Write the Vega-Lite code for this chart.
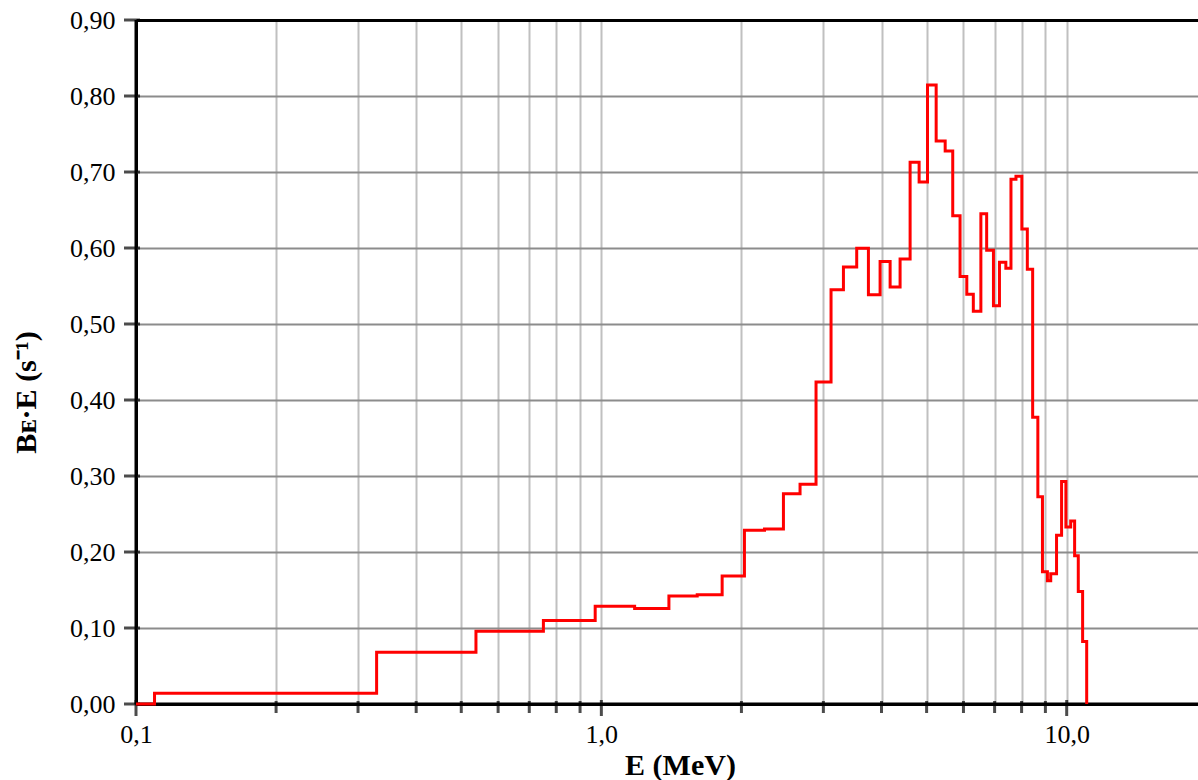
{
  "$schema": "https://vega.github.io/schema/vega-lite/v6.json",
  "autosize": "none",
  "width": 1062,
  "height": 684,
  "padding": {"left": 136, "top": 20, "right": 0, "bottom": 76},
  "background": "white",
  "config": {
    "view": {"stroke": null},
    "font": "Liberation Serif",
    "axis": {"domain": false, "ticks": false, "tickSize": 0}
  },
  "datasets": {
    "spectrum": [
      {"E": 0.1, "v": 0.0},
      {"E": 0.1096, "v": 0.0141},
      {"E": 0.3289, "v": 0.068},
      {"E": 0.5377, "v": 0.0956},
      {"E": 0.7507, "v": 0.110},
      {"E": 0.970, "v": 0.1286},
      {"E": 1.179, "v": 0.1255},
      {"E": 1.397, "v": 0.1421},
      {"E": 1.607, "v": 0.1439},
      {"E": 1.818, "v": 0.1684},
      {"E": 2.03, "v": 0.2285},
      {"E": 2.242, "v": 0.2303},
      {"E": 2.462, "v": 0.2768},
      {"E": 2.673, "v": 0.289},
      {"E": 2.893, "v": 0.4238},
      {"E": 3.116, "v": 0.545},
      {"E": 3.313, "v": 0.5749},
      {"E": 3.538, "v": 0.5998},
      {"E": 3.749, "v": 0.5385},
      {"E": 3.972, "v": 0.5823},
      {"E": 4.174, "v": 0.5486},
      {"E": 4.385, "v": 0.5854},
      {"E": 4.608, "v": 0.7128},
      {"E": 4.818, "v": 0.687},
      {"E": 5.022, "v": 0.8145},
      {"E": 5.242, "v": 0.7409},
      {"E": 5.481, "v": 0.7277},
      {"E": 5.69, "v": 0.6425},
      {"E": 5.90, "v": 0.5625},
      {"E": 6.10, "v": 0.539},
      {"E": 6.30, "v": 0.5168},
      {"E": 6.54, "v": 0.645},
      {"E": 6.73, "v": 0.5969},
      {"E": 6.96, "v": 0.524},
      {"E": 7.17, "v": 0.5814},
      {"E": 7.40, "v": 0.5733},
      {"E": 7.59, "v": 0.6906},
      {"E": 7.78, "v": 0.6943},
      {"E": 8.01, "v": 0.625},
      {"E": 8.23, "v": 0.5719},
      {"E": 8.45, "v": 0.3774},
      {"E": 8.67, "v": 0.2728},
      {"E": 8.87, "v": 0.174},
      {"E": 9.09, "v": 0.1621},
      {"E": 9.24, "v": 0.1715},
      {"E": 9.51, "v": 0.222},
      {"E": 9.75, "v": 0.2927},
      {"E": 9.96, "v": 0.2329},
      {"E": 10.20, "v": 0.2409},
      {"E": 10.40, "v": 0.1952},
      {"E": 10.59, "v": 0.1481},
      {"E": 10.82, "v": 0.0821},
      {"E": 11.04, "v": 0.0}
    ],
    "frame": [{"E": 0.1, "v": 0}],
    "decadeTicks": [{"E": 0.1, "v": 0}, {"E": 1, "v": 0}, {"E": 10, "v": 0}],
    "minorTicks": [
      {"E": 0.2, "v": 0}, {"E": 0.3, "v": 0}, {"E": 0.4, "v": 0}, {"E": 0.5, "v": 0}, {"E": 0.6, "v": 0}, {"E": 0.7, "v": 0}, {"E": 0.8, "v": 0}, {"E": 0.9, "v": 0},
      {"E": 2, "v": 0}, {"E": 3, "v": 0}, {"E": 4, "v": 0}, {"E": 5, "v": 0}, {"E": 6, "v": 0}, {"E": 7, "v": 0}, {"E": 8, "v": 0}, {"E": 9, "v": 0}
    ],
    "valueTicks": [
      {"E": 0.1, "v": 0}, {"E": 0.1, "v": 0.1}, {"E": 0.1, "v": 0.2}, {"E": 0.1, "v": 0.3}, {"E": 0.1, "v": 0.4},
      {"E": 0.1, "v": 0.5}, {"E": 0.1, "v": 0.6}, {"E": 0.1, "v": 0.7}, {"E": 0.1, "v": 0.8}, {"E": 0.1, "v": 0.9}
    ]
  },
  "layer": [
    {
      "data": {"name": "frame"},
      "mark": {"type": "rule", "color": "black", "strokeWidth": 3},
      "encoding": {"y": {"field": "v", "type": "quantitative"}}
    },
    {
      "data": {"name": "frame"},
      "mark": {"type": "rule", "color": "black", "strokeWidth": 3},
      "encoding": {"x": {"field": "E", "type": "quantitative"}}
    },
    {
      "data": {"name": "decadeTicks"},
      "mark": {"type": "tick", "color": "black", "thickness": 3, "size": 16, "orient": "vertical", "yOffset": 4},
      "encoding": {
        "x": {"field": "E", "type": "quantitative"},
        "y": {"field": "v", "type": "quantitative"}
      }
    },
    {
      "data": {"name": "minorTicks"},
      "mark": {"type": "tick", "color": "black", "thickness": 3, "size": 12, "orient": "vertical", "yOffset": 3},
      "encoding": {
        "x": {"field": "E", "type": "quantitative"},
        "y": {"field": "v", "type": "quantitative"}
      }
    },
    {
      "data": {"name": "valueTicks"},
      "mark": {"type": "tick", "color": "black", "thickness": 3, "size": 16, "orient": "horizontal", "xOffset": -4},
      "encoding": {
        "x": {"field": "E", "type": "quantitative"},
        "y": {"field": "v", "type": "quantitative"}
      }
    },
    {
      "data": {"name": "spectrum"},
      "mark": {"type": "line", "interpolate": "step-after", "color": "#ff0000", "strokeWidth": 3},
      "encoding": {
        "x": {
          "field": "E",
          "type": "quantitative",
          "scale": {"type": "log", "domain": [0.1, 19.15], "nice": false},
          "axis": {
            "values": [0.1, 0.2, 0.3, 0.4, 0.5, 0.6, 0.7, 0.8, 0.9, 1, 2, 3, 4, 5, 6, 7, 8, 9, 10],
            "labelExpr": "datum.value == 0.1 ? '0,1' : datum.value == 1 ? '1,0' : datum.value == 10 ? '10,0' : ''",
            "labelFont": "Liberation Serif",
            "labelColor": "black",
            "labelFontSize": 26,
            "labelPadding": 17,
            "labelFlush": false,
            "labelOverlap": false,
            "grid": true,
            "gridColor": {"condition": {"test": "datum.value == 0.1", "value": "black"}, "value": "#c0c0c0"},
            "gridWidth": {"condition": {"test": "datum.value == 0.1", "value": 3}, "value": 2},
            "title": "E (MeV)",
            "titleFont": "Liberation Serif",
            "titleColor": "black",
            "titleFontSize": 30,
            "titleFontWeight": "bold",
            "titleAlign": "center",
            "titleBaseline": "alphabetic",
            "titleX": 544,
            "titleY": 70
          }
        },
        "y": {
          "field": "v",
          "type": "quantitative",
          "scale": {"domain": [0, 0.9], "nice": false, "zero": true},
          "axis": {
            "values": [0, 0.1, 0.2, 0.3, 0.4, 0.5, 0.6, 0.7, 0.8, 0.9],
            "labelExpr": "replace(format(datum.value, '.2f'), '.', ',')",
            "labelFont": "Liberation Serif",
            "labelColor": "black",
            "labelFontSize": 26,
            "labelPadding": 21,
            "labelFlush": false,
            "labelOverlap": false,
            "grid": true,
            "gridColor": {"condition": {"test": "datum.value == 0 || datum.value == 0.9", "value": "black"}, "value": "#8c8c8c"},
            "gridWidth": {"condition": {"test": "datum.value == 0 || datum.value == 0.9", "value": 3}, "value": 2},
            "title": "Bᴇ·E (s⁻¹)",
            "titleFont": "Liberation Serif",
            "titleColor": "black",
            "titleFontSize": 30,
            "titleFontWeight": "bold",
            "titleAngle": -90,
            "titleAlign": "center",
            "titleBaseline": "middle",
            "titleX": -110,
            "titleY": 372
          }
        }
      }
    }
  ]
}
